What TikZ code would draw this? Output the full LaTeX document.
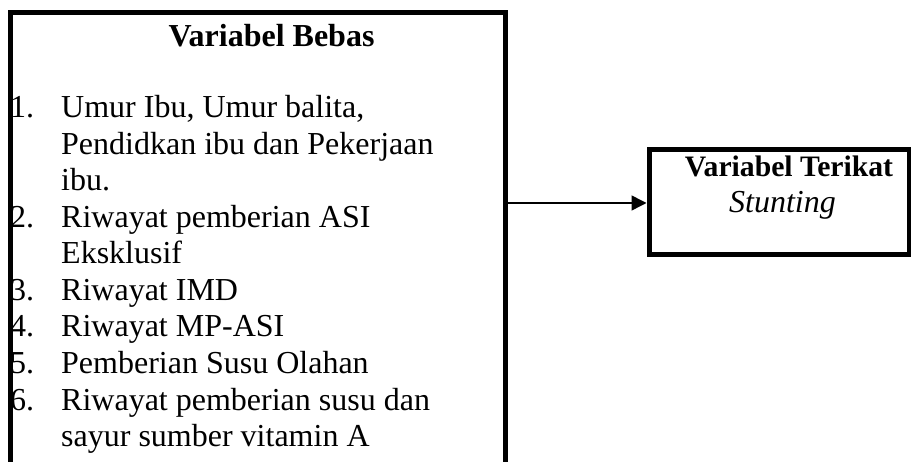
\documentclass[tikz,border=0pt]{standalone}
\usepackage{fontspec}
\setmainfont{Liberation Serif}
\usetikzlibrary{arrows.meta}
\begin{document}
\begin{tikzpicture}[x=1pt,y=-1pt,
  txt/.style={inner sep=0pt, anchor=base west, font=\fontsize{32}{36}\selectfont},
  ctr/.style={inner sep=0pt, anchor=base},
  boxline/.style={line width=5pt},
  conn/.style={line width=1.5pt, -{Triangle[length=15pt,width=15pt]}}]
\useasboundingbox[fill=white] (0,0) rectangle (911,462);
% left box (open at bottom)
\draw[boxline] (10.5,470) -- (10.5,12.5) -- (505.5,12.5) -- (505.5,470);
\coordinate (bebasR) at (505.5,203);
\node[ctr, font=\fontsize{32}{36}\selectfont\bfseries] (title) at (271.5,47) {Variabel Bebas};
% list
\node[txt] (n1) at (10,118) {1.};
\node[txt] (t1a) at (61,118) {Umur Ibu, Umur balita,};
\node[txt] (t1b) at (61,154.5) {Pendidkan ibu dan Pekerjaan};
\node[txt] (t1c) at (61,191) {ibu.};
\node[txt] (n2) at (10,227.5) {2.};
\node[txt] (t2a) at (61,227.5) {Riwayat pemberian ASI};
\node[txt] (t2b) at (61,264) {Eksklusif};
\node[txt] (n3) at (10,300.5) {3.};
\node[txt] (t3) at (61,300.5) {Riwayat IMD};
\node[txt] (n4) at (10,337) {4.};
\node[txt] (t4) at (61,337) {Riwayat MP-ASI};
\node[txt] (n5) at (10,373.5) {5.};
\node[txt] (t5) at (61,373.5) {Pemberian Susu Olahan};
\node[txt] (n6) at (10,410) {6.};
\node[txt] (t6a) at (61,410) {Riwayat pemberian susu dan};
\node[txt] (t6b) at (61,446.5) {sayur sumber vitamin A};
% right box
\node[draw, boxline, minimum width=260pt, minimum height=105pt, inner sep=0pt] (terikat) at (779,202) {};
\node[ctr, font=\fontsize{29.7}{34}\selectfont\bfseries] (tt1) at (789,177) {Variabel Terikat};
\node[ctr, font=\fontsize{32}{36}\selectfont\itshape] (tt2) at (782.5,213) {Stunting};
% arrow
\draw[conn] (bebasR) -- (terikat.west |- bebasR);
\end{tikzpicture}
\end{document}
